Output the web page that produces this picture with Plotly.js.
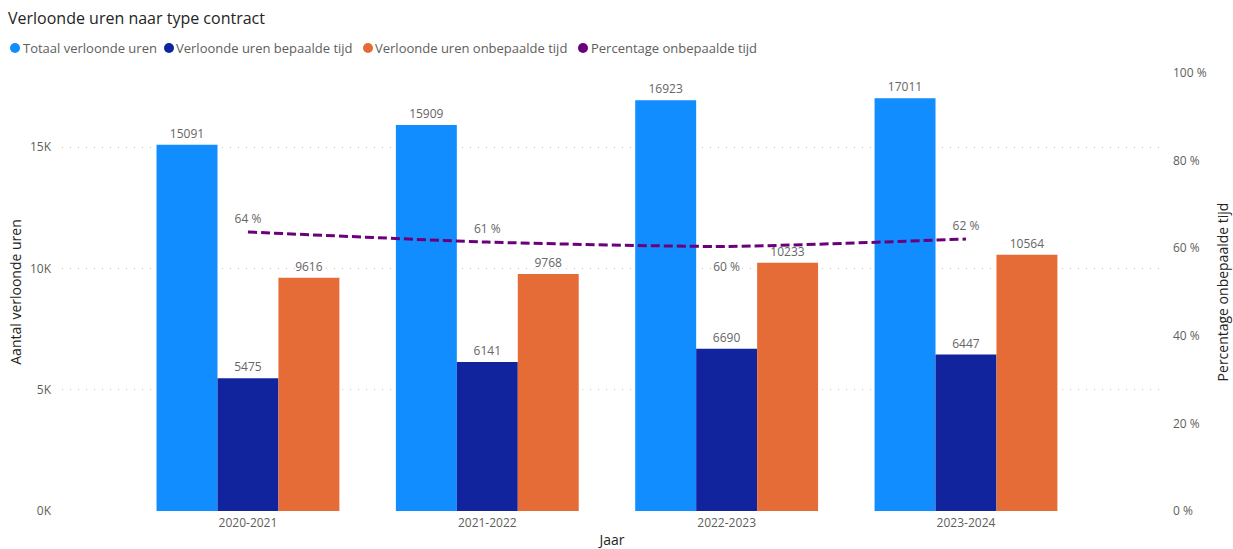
<!DOCTYPE html>
<html>
<head>
<meta charset="utf-8">
<script src="https://cdn.plot.ly/plotly-3.0.1.min.js"></script>
<style>html,body{margin:0;padding:0;background:#fff;}#chart{width:1233px;height:549px;}</style>
</head>
<body>
<div id="chart"></div>
<script>
const years = ["2020-2021", "2021-2022", "2022-2023", "2023-2024"];
const totaal = [15091, 15909, 16923, 17011];
const bepaald = [5475, 6141, 6690, 6447];
const onbepaald = [9616, 9768, 10233, 10564];
const percentage = [63.7, 61.4, 60.4, 62.1];
const pctLabelPos = ["top center", "top center", "bottom center", "top center"];
const leftTickVals = [0, 5000, 10000, 15000];
const leftTickText = ["0K", "5K", "10K", "15K"];

const names = ["Totaal verloonde uren", "Verloonde uren bepaalde tijd", "Verloonde uren onbepaalde tijd", "Percentage onbepaalde tijd"];
const colors = ["#118DFF", "#12239E", "#E66C37", "#6B007B"];
// legend layout (pixels): marker centres and text starts
const legendDotPx = [15, 169, 368, 583];
const legendTextPx = [21, 174, 373, 589];
const legendYPx = 48;

const FONT = '"Open Sans", "Segoe UI", sans-serif';
const labelFont = {family: FONT, size: 12, color: "#666666"};
const plotLeft = 62, plotWidth = 1100, plotTop = 73, plotBottom = 511;
const plotHeight = plotBottom - plotTop;

function barTrace(vals, i) {
  return {
    type: "bar", x: years, y: vals, name: names[i],
    marker: {color: colors[i]}, showlegend: false,
    text: vals.map(String), textposition: "outside", cliponaxis: false,
    textfont: labelFont, hoverinfo: "x+y+name"
  };
}

const traces = [
  barTrace(totaal, 0),
  barTrace(bepaald, 1),
  barTrace(onbepaald, 2),
  {
    type: "scatter", mode: "lines+markers+text", x: years, y: percentage, yaxis: "y2",
    name: names[3], showlegend: false,
    line: {color: colors[3], width: 3, dash: "9px,4px", shape: "spline", smoothing: 0.6},
    marker: {size: pctLabelPos.map(p => p.startsWith("top") ? 8 : 24), opacity: 0, color: colors[3]},
    text: percentage.map(v => Math.round(v) + " %"), textposition: pctLabelPos,
    textfont: labelFont, cliponaxis: false
  }
];

const legY = (plotBottom - legendYPx) / plotHeight;
const legendShapes = names.map((n, i) => ({
  type: "circle", xref: "paper", yref: "paper", xsizemode: "pixel", ysizemode: "pixel",
  xanchor: (legendDotPx[i] - plotLeft) / plotWidth, yanchor: legY,
  x0: -5, x1: 5, y0: -5, y1: 5, fillcolor: colors[i], line: {width: 0}
}));
const legendAnnots = names.map((n, i) => ({
  text: n, xref: "paper", yref: "paper", x: (legendTextPx[i] - plotLeft) / plotWidth, y: legY,
  xanchor: "left", yanchor: "middle", showarrow: false,
  font: {family: FONT, size: 13, color: "#605E5C"}
}));

const layout = {
  width: 1233, height: 549,
  margin: {l: plotLeft, r: 1233 - plotLeft - plotWidth, t: plotTop, b: 549 - plotBottom},
  paper_bgcolor: "#ffffff", plot_bgcolor: "#ffffff",
  font: {family: FONT, color: "#605E5C", size: 12},
  title: {text: "Verloonde uren naar type contract", x: 0.0065, xref: "container", xanchor: "left",
    y: 0.967, yref: "container", yanchor: "middle",
    font: {family: FONT, size: 16, color: "#252423"}},
  showlegend: false,
  shapes: legendShapes,
  annotations: legendAnnots,
  barmode: "group", bargap: 0.236, bargroupgap: 0,
  xaxis: {type: "category", range: [-0.777, 3.819], showgrid: false, zeroline: false, showline: false,
    ticks: "", tickfont: {size: 12, color: "#605E5C"}, ticklabelstandoff: 3,
    title: {text: "Jaar", font: {size: 14, color: "#252423"}, standoff: 8}},
  yaxis: {range: [0, 18050], tickvals: leftTickVals, ticktext: leftTickText,
    showgrid: true, gridcolor: "#c8c8c8", griddash: "1px,7px", gridwidth: 1, zeroline: false,
    ticks: "", tickfont: {size: 12, color: "#605E5C"}, ticklabelstandoff: 10,
    title: {text: "Aantal verloonde uren", font: {size: 14, color: "#252423"}, standoff: 5}},
  yaxis2: {range: [0, 100], dtick: 20, ticksuffix: " %", overlaying: "y", side: "right",
    showgrid: false, zeroline: false, ticks: "", tickfont: {size: 12, color: "#605E5C"},
    ticklabelstandoff: 10,
    title: {text: "Percentage onbepaalde tijd", font: {size: 14, color: "#252423"}, standoff: 12}}
};

Plotly.newPlot("chart", traces, layout, {displayModeBar: false, staticPlot: true});
</script>
</body>
</html>
